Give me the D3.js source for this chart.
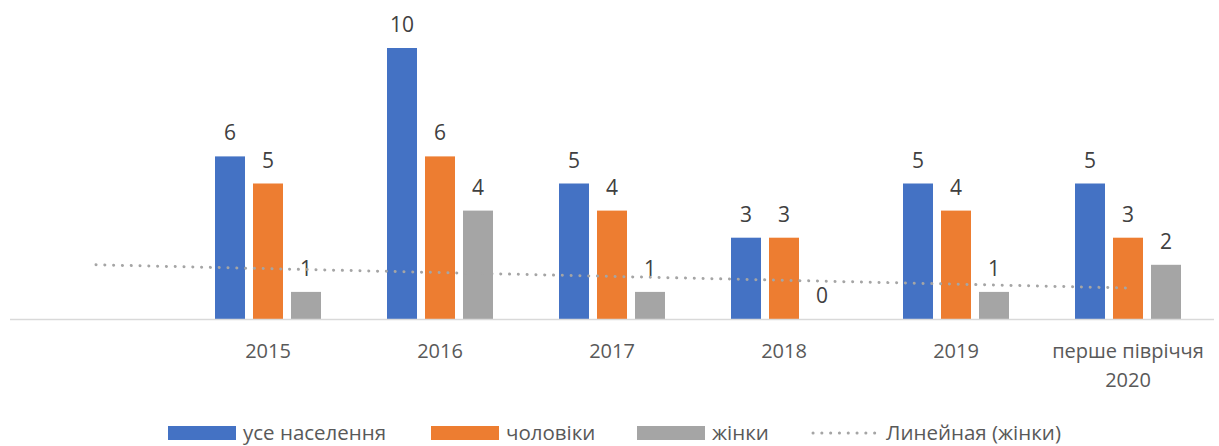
<!DOCTYPE html>
<html>
<head>
<meta charset="utf-8">
<script src="https://cdn.jsdelivr.net/npm/d3@7"></script>
<style>
  body { margin: 0; background: #fff; }
  svg text { font-family: "Open Sans", "Noto Sans", sans-serif; }
</style>
</head>
<body>
<div id="chart"></div>
<script>
// first category is empty in the source chart
const categories = ['', '2015', '2016', '2017', '2018', '2019', 'перше півріччя\n2020'];
const allPeople = [null, 6, 10, 5, 3, 5, 5];
const men = [null, 5, 6, 4, 3, 4, 3];
const women = [null, 1, 4, 1, 0, 1, 2];
const seriesNames = ['усе населення', 'чоловіки', 'жінки'];
const trendName = 'Линейная (жінки)';

const colors = ['#4472c4', '#ed7d31', '#a5a5a5'];
const width = 1219, height = 446;
const plotLeft = 10, plotRight = 1214, plotBase = 319, plotTop = 48;

const svg = d3.select('#chart').append('svg')
  .attr('width', width)
  .attr('height', height);

const x = d3.scaleBand()
  .domain(d3.range(categories.length))
  .range([plotLeft, plotRight]);

const y = d3.scaleLinear()
  .domain([0, 10])
  .range([plotBase, plotTop]);

const barW = 30, gap = 8;
const series = [allPeople, men, women];

series.forEach((vals, s) => {
  const g = svg.append('g');
  const pts = vals.map((v, i) => ({ v, i })).filter(d => d.v !== null);
  const xPos = d => x(d.i) + x.bandwidth() / 2 - (3 * barW + 2 * gap) / 2 + s * (barW + gap);
  g.selectAll('rect')
    .data(pts)
    .enter()
    .append('rect')
    .attr('x', xPos)
    .attr('y', d => y(d.v))
    .attr('width', barW)
    .attr('height', d => plotBase - y(d.v))
    .style('fill', colors[s]);
  g.selectAll('text')
    .data(pts)
    .enter()
    .append('text')
    .attr('x', d => xPos(d) + barW / 2)
    .attr('y', d => y(d.v) - 16)
    .attr('text-anchor', 'middle')
    .attr('font-size', 21)
    .attr('fill', '#404040')
    .text(d => d.v);
});

// axis line
svg.append('line')
  .attr('x1', plotLeft).attr('x2', plotRight)
  .attr('y1', plotBase + 0.5).attr('y2', plotBase + 0.5)
  .attr('stroke', '#d9d9d9')
  .attr('stroke-width', 1.5);

// category labels
categories.forEach((c, i) => {
  const lines = c.split('\n');
  const t = svg.append('text')
    .attr('x', x(i) + x.bandwidth() / 2)
    .attr('y', 358)
    .attr('text-anchor', 'middle')
    .attr('font-size', 20)
    .attr('fill', '#595959');
  lines.forEach((l, k) => {
    t.append('tspan')
      .attr('x', x(i) + x.bandwidth() / 2)
      .attr('dy', k === 0 ? 0 : 29)
      .text(l);
  });
});

// linear trend of women (Excel style: fit on available points, extended back to first category)
const known = women.map((v, i) => [i + 1, v]).filter(d => d[1] !== null);
const mx = d3.mean(known, d => d[0]), my = d3.mean(known, d => d[1]);
const slope = d3.sum(known, d => (d[0] - mx) * (d[1] - my)) / d3.sum(known, d => (d[0] - mx) ** 2);
const icpt = my - slope * mx;
const trendPts = [1, categories.length].map(k => [x(k - 1) + x.bandwidth() / 2, y(icpt + slope * k)]);
svg.append('path')
  .attr('d', d3.line()(trendPts))
  .attr('stroke', '#a5a5a5')
  .attr('stroke-width', 3)
  .attr('stroke-linecap', 'round')
  .attr('stroke-dasharray', '0.1 8.7')
  .attr('fill', 'none');

// legend
const legend = svg.append('g');
const legendItems = [
  { name: seriesNames[0], x: 168, type: 'rect', color: colors[0] },
  { name: seriesNames[1], x: 431, type: 'rect', color: colors[1] },
  { name: seriesNames[2], x: 637, type: 'rect', color: colors[2] },
  { name: trendName, x: 811, type: 'line', color: colors[2] }
];
legendItems.forEach(it => {
  if (it.type === 'rect') {
    legend.append('rect')
      .attr('x', it.x).attr('y', 426)
      .attr('width', 68).attr('height', 14)
      .attr('fill', it.color);
  } else {
    legend.append('line')
      .attr('x1', it.x + 2).attr('x2', it.x + 66)
      .attr('y1', 433).attr('y2', 433)
      .attr('stroke', it.color)
      .attr('stroke-width', 3)
      .attr('stroke-linecap', 'round')
      .attr('stroke-dasharray', '0.1 8.7');
  }
  legend.append('text')
    .attr('x', it.x + 75)
    .attr('y', 440)
    .attr('font-size', 20.5)
    .attr('fill', '#595959')
    .text(it.name);
});
</script>
</body>
</html>
